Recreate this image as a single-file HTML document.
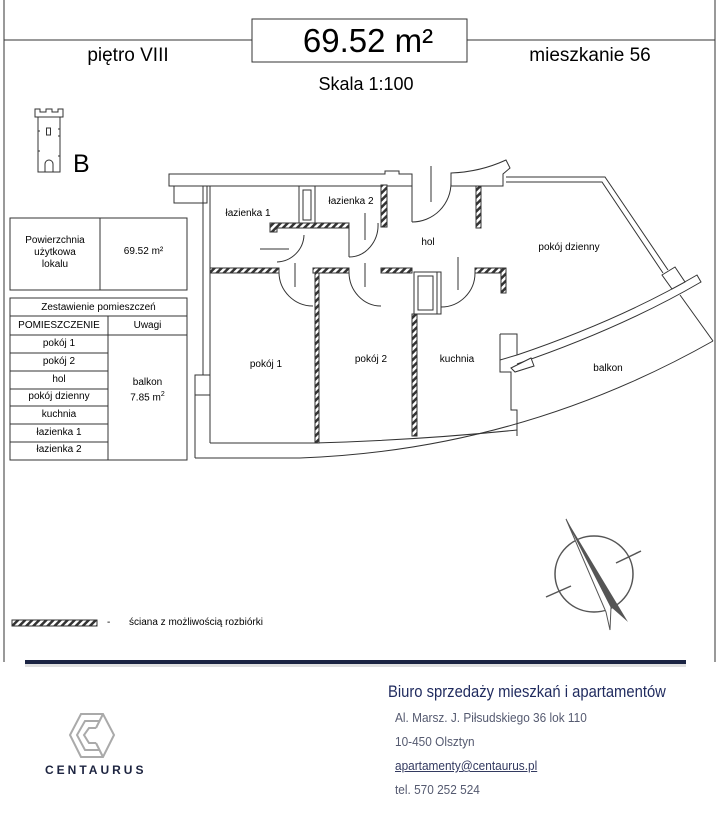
<!DOCTYPE html>
<html><head><meta charset="utf-8"><style>
html,body{margin:0;padding:0;background:#fff;}
body{width:720px;height:834px;position:relative;overflow:hidden;font-family:"Liberation Sans",sans-serif;}
.t{position:absolute;white-space:nowrap;}
</style></head><body>
<svg width="720" height="834" style="position:absolute;left:0;top:0" xmlns="http://www.w3.org/2000/svg">
<defs>
<pattern id="h" width="5" height="5" patternUnits="userSpaceOnUse" patternTransform="rotate(45)">
<rect width="5" height="5" fill="#fff"/><rect width="2.5" height="5" fill="#333"/>
</pattern>
</defs>
<g stroke="#333" fill="none" stroke-width="1">
<line x1="4" y1="0" x2="4" y2="662"/>
<line x1="715" y1="0" x2="715" y2="662"/>
<line x1="4" y1="40" x2="252" y2="40"/>
<line x1="467" y1="40" x2="715" y2="40"/>
<rect x="252" y="19" width="215" height="43"/>
<path d="M35 117 V109 h5 v3 h6 v-3 h6 v3 h6 v-3 h5 v8 Z"/>
<rect x="38" y="117" width="22" height="55"/>
<rect x="46.5" y="128" width="4" height="7"/>
<path d="M45 172 v-8 a4 4 0 0 1 8 0 v8"/>
<line x1="38" y1="131" x2="40" y2="131"/><line x1="58" y1="129" x2="60" y2="129"/>
<line x1="58" y1="136" x2="60" y2="136"/>
<line x1="38" y1="151" x2="40" y2="151"/><line x1="58" y1="156" x2="60" y2="156"/>
<rect x="10" y="218" width="177" height="72"/>
<line x1="100" y1="218" x2="100" y2="290"/>
<rect x="10" y="298" width="177" height="162"/>
<line x1="10" y1="316" x2="187" y2="316"/>
<line x1="10" y1="335" x2="187" y2="335"/>
<line x1="108" y1="316" x2="108" y2="460"/>
<line x1="10" y1="353" x2="108" y2="353"/>
<line x1="10" y1="371" x2="108" y2="371"/>
<line x1="10" y1="389" x2="108" y2="389"/>
<line x1="10" y1="406" x2="108" y2="406"/>
<line x1="10" y1="424" x2="108" y2="424"/>
<line x1="10" y1="442" x2="108" y2="442"/>
</g>
<g stroke="#333" fill="#fff" stroke-width="1">
<path d="M169 174 H385 V171 H399 V174 H412 V186 H169 Z"/>
<rect x="174" y="186" width="33" height="17"/>
<line x1="203" y1="186" x2="203" y2="375"/>
<line x1="210" y1="186" x2="210" y2="443"/>
<rect x="195" y="375" width="15" height="20"/>
<line x1="195" y1="395" x2="195" y2="458"/>
<path d="M451 173 Q480 172 506 160 L510 168 L503 174 V186 H451 Z"/>
<path d="M506 177 H605 L668 270" fill="none"/>
<path d="M506 182 H602 L663 273" fill="none"/>
<rect x="299" y="186" width="16" height="40"/>
<rect x="303" y="190" width="8" height="30"/>
<rect x="414" y="272" width="23" height="42"/>
<rect x="418" y="276" width="15" height="34"/>
<rect x="437" y="272" width="4" height="42"/>
<path d="M500 334 H517 V355 L500 360 V372 H511 V410 H517 V436" fill="none"/>
<line x1="500" y1="372" x2="500" y2="334"/>
<path d="M210 443 H315 Q420 440 517 430" fill="none"/>
<path d="M195 458 H300 Q520 450 713 341" fill="none"/>
<line x1="680" y1="295" x2="713" y2="341"/>
<path d="M517 355 Q620 320 697 275 L701 282 Q622 328 517 364" />
<polygon points="662,275 675,267 685,282 672,289"/>
<path d="M511 368 L531 358 L534 366 L515 372 Z"/>
<g fill="url(#h)">
<rect x="381" y="185" width="6" height="42"/>
<rect x="476" y="186" width="5" height="42"/>
<path d="M270 223 H349 V228 H277 V232 H270 Z"/>
<rect x="210" y="268" width="69" height="5"/>
<rect x="313" y="268" width="36" height="5"/>
<rect x="381" y="268" width="31" height="5"/>
<rect x="475" y="268" width="31" height="5"/>
<rect x="501" y="268" width="5" height="25"/>
<rect x="315" y="273" width="4" height="170"/>
<rect x="412" y="314" width="5" height="122"/>
<rect x="12" y="620" width="85" height="6"/>
</g>
<line x1="349" y1="228" x2="349" y2="257"/>
<g fill="none">
<path d="M304 235 A28 28 0 0 1 277 262"/><line x1="260" y1="249" x2="289" y2="249"/>
<path d="M378 223 A29 32 0 0 1 349 257"/><line x1="365" y1="213" x2="365" y2="240"/>
<line x1="412" y1="186" x2="412" y2="222"/><path d="M412 222 A39 39 0 0 0 451 183"/><line x1="431" y1="166" x2="431" y2="202"/>
<path d="M279 272 A34 34 0 0 0 313 306"/><line x1="295" y1="263" x2="295" y2="287"/>
<path d="M349 272 A32 34 0 0 0 381 306"/><line x1="365" y1="263" x2="365" y2="287"/>
<path d="M441 307 A34 34 0 0 0 475 273"/><line x1="458" y1="257" x2="458" y2="290"/>
</g>
</g>
<g stroke="#555" fill="none" stroke-width="1.5">
<ellipse cx="594" cy="574" rx="39" ry="38"/>
<line x1="546" y1="597" x2="571" y2="586"/>
<line x1="616" y1="563" x2="641" y2="551"/>
</g>
<polygon points="566,519 628,622 611,607" fill="#555"/>
<polygon points="566,519 611,607 610,630 606,612" fill="#fff" stroke="#555" stroke-width="1"/>
<rect x="25" y="660" width="661" height="4" fill="#1b2443"/>
<rect x="25" y="664" width="661" height="3" fill="#ccc" opacity="0.6"/>
<g fill="none" stroke="#aaa" stroke-width="2">
<polygon points="81,714 103,714 114,735 103,757 81,757 70,735"/>
<polyline points="100,721 85,721 77,735 85,750 100,750"/>
<polyline points="96,728 89,728 84,735 89,743 96,743"/>
<line x1="103" y1="714" x2="96" y2="728"/>
<line x1="103" y1="757" x2="96" y2="743"/>
</g>
</svg>
<div class="t" style="left:252px;top:22px;width:232px;text-align:center;font-size:33px;">69.52 m²</div>
<div class="t" style="left:68px;top:45px;width:120px;text-align:center;font-size:19px;">piętro VIII</div>
<div class="t" style="left:515px;top:45px;width:150px;text-align:center;font-size:19px;">mieszkanie 56</div>
<div class="t" style="left:296px;top:74px;width:140px;text-align:center;font-size:18px;">Skala 1:100</div>
<div class="t" style="left:73px;top:150px;font-size:25px;">B</div>
<div class="t" style="left:10px;top:235px;width:90px;text-align:center;font-size:10px;line-height:12px;">Powierzchnia<br>użytkowa<br>lokalu</div>
<div class="t" style="left:100px;top:246px;width:87px;text-align:center;font-size:10px;">69.52 m²</div>
<div class="t" style="left:10px;top:302px;width:177px;text-align:center;font-size:10px;">Zestawienie pomieszczeń</div>
<div class="t" style="left:10px;top:320px;width:98px;text-align:center;font-size:10px;">POMIESZCZENIE</div>
<div class="t" style="left:108px;top:320px;width:79px;text-align:center;font-size:10px;">Uwagi</div>
<div class="t" style="left:10px;top:338px;width:98px;text-align:center;font-size:10px;">pokój 1</div>
<div class="t" style="left:10px;top:356px;width:98px;text-align:center;font-size:10px;">pokój 2</div>
<div class="t" style="left:10px;top:374px;width:98px;text-align:center;font-size:10px;">hol</div>
<div class="t" style="left:10px;top:391px;width:98px;text-align:center;font-size:10px;">pokój dzienny</div>
<div class="t" style="left:10px;top:409px;width:98px;text-align:center;font-size:10px;">kuchnia</div>
<div class="t" style="left:10px;top:427px;width:98px;text-align:center;font-size:10px;">łazienka 1</div>
<div class="t" style="left:10px;top:444px;width:98px;text-align:center;font-size:10px;">łazienka 2</div>
<div class="t" style="left:108px;top:377px;width:79px;text-align:center;font-size:10px;line-height:12px;">balkon<br>7.85 m<sup style="font-size:7px">2</sup></div>
<div class="t" style="left:218px;top:208px;width:60px;text-align:center;font-size:10px;">łazienka 1</div>
<div class="t" style="left:321px;top:196px;width:60px;text-align:center;font-size:10px;">łazienka 2</div>
<div class="t" style="left:413px;top:237px;width:30px;text-align:center;font-size:10px;">hol</div>
<div class="t" style="left:529px;top:242px;width:80px;text-align:center;font-size:10px;">pokój dzienny</div>
<div class="t" style="left:236px;top:359px;width:60px;text-align:center;font-size:10px;">pokój 1</div>
<div class="t" style="left:341px;top:354px;width:60px;text-align:center;font-size:10px;">pokój 2</div>
<div class="t" style="left:427px;top:354px;width:60px;text-align:center;font-size:10px;">kuchnia</div>
<div class="t" style="left:578px;top:363px;width:60px;text-align:center;font-size:10px;">balkon</div>
<div class="t" style="left:107px;top:617px;font-size:10px;">-</div>
<div class="t" style="left:129px;top:617px;font-size:10px;">ściana z możliwością rozbiórki</div>
<div class="t" style="left:388px;top:682px;font-size:17px;color:#1f2a5e;transform:scaleX(0.87);transform-origin:0 0;">Biuro sprzedaży mieszkań i apartamentów</div>
<div class="t" style="left:395px;top:710px;font-size:13px;color:#555a70;transform:scaleX(0.91);transform-origin:0 0;">Al. Marsz. J. Piłsudskiego 36 lok 110</div>
<div class="t" style="left:395px;top:734px;font-size:13px;color:#555a70;transform:scaleX(0.91);transform-origin:0 0;">10-450 Olsztyn</div>
<div class="t" style="left:395px;top:758px;font-size:13px;color:#333a60;text-decoration:underline;transform:scaleX(0.91);transform-origin:0 0;">apartamenty@centaurus.pl</div>
<div class="t" style="left:395px;top:782px;font-size:13px;color:#555a70;transform:scaleX(0.91);transform-origin:0 0;">tel. 570 252 524</div>
<div class="t" style="left:45px;top:763px;font-size:12px;font-weight:bold;letter-spacing:3px;color:#1d2440;">CENTAURUS</div>
</body></html>
